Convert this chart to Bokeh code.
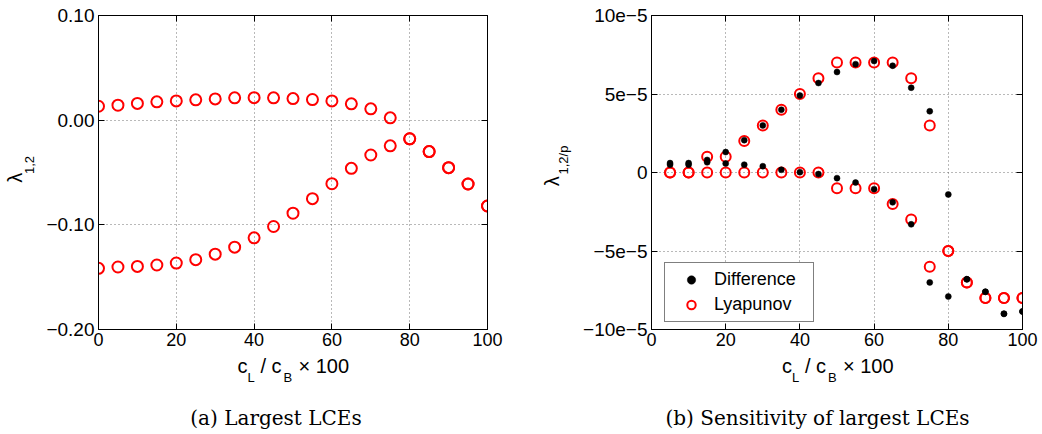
from bokeh.plotting import figure
from bokeh.models import (Range1d, FixedTicker, LinearAxis, Label, Legend, LegendItem,
                          ColumnDataSource, CustomJSTickFormatter)
from bokeh.layouts import row, column
from bokeh.embed import file_html
from bokeh.resources import INLINE

# ---------------- data ----------------
# (a) Largest LCEs
cl_a = [0, 5, 10, 15, 20, 25, 30, 35, 40, 45, 50, 55, 60, 65, 70, 75, 80, 85, 90, 95, 100]
lce_1 = [0.0133, 0.0143, 0.0160, 0.0175, 0.0184, 0.0194, 0.0203, 0.0213, 0.0215, 0.0213,
         0.0206, 0.0197, 0.0184, 0.0156, 0.0108, 0.0022, -0.0178, -0.0300, -0.0454, -0.0610, -0.0820]
lce_2 = [-0.1416, -0.1403, -0.1397, -0.1384, -0.1365, -0.1333, -0.1280, -0.1213, -0.1124, -0.1016,
         -0.0889, -0.0750, -0.0607, -0.0460, -0.0333, -0.0245, -0.0178, -0.0300, -0.0454, -0.0610, -0.0820]

# (b) Sensitivity of largest LCEs, values in units of 1e-5
cl_b = [5, 10, 15, 20, 25, 30, 35, 40, 45, 50, 55, 60, 65, 70, 75, 80, 85, 90, 95, 100]
lyap_1 = [0, 0, 1, 1, 2, 3, 4, 5, 6, 7, 7, 7, 7, 6, 3, -5, -7, -8, -8, -8]
lyap_2 = [0, 0, 0, 0, 0, 0, 0, 0, 0, -1, -1, -1, -2, -3, -6, -5, -7, -8, -8, -8]
diff_1 = [0.60, 0.60, 0.80, 1.30, 2.06, 3.00, 4.00, 4.90, 5.70, 6.40, 6.90, 7.10, 6.80, 5.40,
          3.90, -1.40, -6.80, -7.60, -9.00, -8.85]
diff_2 = [0.50, 0.50, 0.65, 0.57, 0.50, 0.40, 0.17, 0.02, -0.10, -0.36, -0.64, -1.06, -1.90, -3.30,
          -7.00, -7.90, -6.80, -7.60, -9.00, -8.85]

xticks = [0, 20, 40, 60, 80, 100]
yticks_a = [-0.2, -0.1, 0.0, 0.1]
yticks_b = [-10, -5, 0, 5, 10]

FONT = "Liberation Sans"
SERIF = "DejaVu Serif"
RED = "#ff0000"
PH = 354      # height of plot figures
SH = 78       # height of label strip below


def make_fig(width, xr, yr, left, right, yticks, yfmt_code):
    p = figure(width=width, height=PH, output_backend="svg", toolbar_location=None,
               x_range=Range1d(*xr), y_range=Range1d(*yr),
               min_border_left=left, min_border_right=right,
               min_border_top=15, min_border_bottom=25)
    p.title.visible = False
    p.outline_line_color = "black"
    p.outline_line_width = 1
    p.background_fill_color = "white"
    p.border_fill_color = "white"
    p.xaxis.ticker = FixedTicker(ticks=xticks)
    p.yaxis.ticker = FixedTicker(ticks=yticks)
    p.yaxis.formatter = CustomJSTickFormatter(code=yfmt_code)
    for ax in (p.xaxis[0], p.yaxis[0]):
        ax.major_tick_in = 6
        ax.major_tick_out = 0
        ax.minor_tick_in = 0
        ax.minor_tick_out = 0
        ax.axis_line_color = "black"
        ax.major_tick_line_color = "black"
        ax.major_label_text_font = FONT
        ax.major_label_text_color = "black"
    p.xaxis.major_label_text_font_size = "18px"
    p.yaxis.major_label_text_font_size = "19px"
    p.xaxis.major_label_standoff = 3
    p.yaxis.major_label_standoff = 4
    # top / right axes with ticks only (empty labels)
    for loc, ticks in (("above", xticks), ("right", yticks)):
        ax = LinearAxis(ticker=FixedTicker(ticks=ticks), major_tick_in=6, major_tick_out=0,
                        minor_tick_in=0, minor_tick_out=0,
                        formatter=CustomJSTickFormatter(code='return "";'),
                        major_label_text_font_size="8px",
                        major_label_standoff=0, axis_line_color="black")
        p.add_layout(ax, loc)
    p.xgrid.ticker = FixedTicker(ticks=xticks)
    p.ygrid.ticker = FixedTicker(ticks=yticks)
    p.grid.grid_line_color = "#444444"
    p.grid.grid_line_dash = "1 3"
    p.grid.grid_line_alpha = 0.75
    return p


def strip(width, height):
    # blank figure whose frame is the whole canvas; pixel-like coordinates (y downward)
    s = figure(width=width, height=height, output_backend="svg", toolbar_location=None,
               x_range=Range1d(0, width), y_range=Range1d(height, 0),
               min_border=0, x_axis_location=None, y_axis_location=None)
    s.title.visible = False
    s.min_border_left = s.min_border_right = s.min_border_top = s.min_border_bottom = 0
    s.grid.visible = False
    s.outline_line_color = None
    s.background_fill_color = "white"
    s.border_fill_color = "white"
    return s


def add_xlabel(s, x0):
    # c_L / c_B x 100, built from pieces; x0 = left edge of first "c"
    main = dict(text_font=FONT, text_font_size="20px", text_color="black",
                text_align="left", text_baseline="middle")
    sub = dict(main, text_font_size="13px")
    s.add_layout(Label(x=x0, y=11.5, text="c", **main))
    s.add_layout(Label(x=x0 + 10, y=22.5, text="L", **sub))
    s.add_layout(Label(x=x0 + 23, y=11.5, text="/ c", **main))
    s.add_layout(Label(x=x0 + 46, y=22.5, text="B", **sub))
    s.add_layout(Label(x=x0 + 61, y=11.5, text="\u00d7 100", **main))


def add_caption(s, cx, text):
    s.add_layout(Label(x=cx, y=63, text=text, text_font=SERIF, text_font_size="20px",
                       text_color="black", text_align="center", text_baseline="middle"))


def add_ylabel(s, lam_xy, sub_xy, subtext):
    common = dict(text_font=FONT, text_color="black", text_align="center",
                  text_baseline="middle", angle=90, angle_units="deg")
    s.add_layout(Label(x=lam_xy[0], y=lam_xy[1], text="\u03bb", text_font_size="20px", **common))
    s.add_layout(Label(x=sub_xy[0], y=sub_xy[1], text=subtext, text_font_size="13px", **common))


fmt_a = 'return (tick < -1e-9 ? "\\u2212" : "") + Math.abs(tick).toFixed(2);'
fmt_b = ('if (Math.abs(tick) < 1e-9) { return "0"; } '
         'return (tick < 0 ? "\\u2212" : "") + Math.abs(Math.round(tick)) + "e\\u22125";')

# ---------------- (a) ----------------
p1 = make_fig(500, (0, 100), (-0.2, 0.1), 58, 53, yticks_a, fmt_a)
src_a = ColumnDataSource(dict(x=cl_a + cl_a, y=lce_1 + lce_2))
p1.scatter("x", "y", source=src_a, marker="circle", size=11, fill_color=None,
           line_color=RED, line_width=2)
yl1 = strip(40, PH)
add_ylabel(yl1, (14, 183), (29, 168.5), "1,2")
bs1 = strip(540, SH)
add_xlabel(bs1, 237)
add_caption(bs1, 275.5, "(a) Largest LCEs")

# ---------------- (b) ----------------
p2 = make_fig(468, (0, 100), (-10, 10), 79, 18, yticks_b, fmt_b)
src_l = ColumnDataSource(dict(x=cl_b + cl_b, y=lyap_1 + lyap_2))
src_d = ColumnDataSource(dict(x=cl_b + cl_b, y=diff_1 + diff_2))
r_l = p2.scatter("x", "y", source=src_l, marker="circle", size=10, fill_color=None,
                 line_color=RED, line_width=2)
r_d = p2.scatter("x", "y", source=src_d, marker="circle", size=6, fill_color="black",
                 line_color="black", line_width=0.5)
legend = Legend(items=[LegendItem(label="Difference", renderers=[r_d]),
                       LegendItem(label="Lyapunov", renderers=[r_l])],
                location=(13, 7), orientation="vertical",
                label_text_font=FONT, label_text_font_size="18px", label_text_color="black",
                padding=6, spacing=4, label_height=21, glyph_height=21, glyph_width=40,
                label_standoff=3, label_width=93, margin=0,
                border_line_color="black", border_line_width=1,
                background_fill_color="white", background_fill_alpha=1.0)
p2.add_layout(legend)
yl2 = strip(32, PH)
add_ylabel(yl2, (11, 187), (23, 163), "1,2/p")
bs2 = strip(500, SH)
add_xlabel(bs2, 241.5)
add_caption(bs2, 277, "(b) Sensitivity of largest LCEs")

layout = row(column(row(yl1, p1, spacing=0), bs1, spacing=0),
             column(row(yl2, p2, spacing=0), bs2, spacing=0), spacing=0)
open("out.html", "w").write(file_html(layout, INLINE))
